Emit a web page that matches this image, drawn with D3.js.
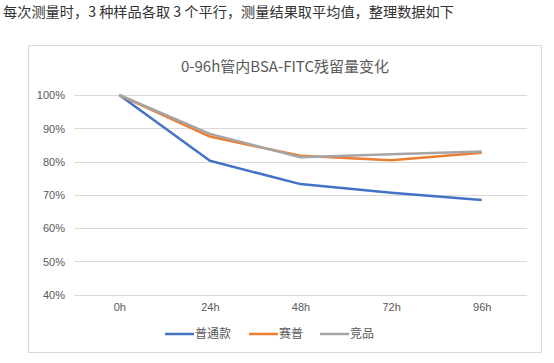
<!DOCTYPE html>
<html lang="zh">
<head>
<meta charset="utf-8">
<script src="https://cdn.jsdelivr.net/npm/d3@7"></script>
<style>
    body { margin: 0; background: #fff; font-family: "Noto Sans CJK SC", "Noto Sans", sans-serif; }
    .grid line { stroke: #d9d9d9; stroke-width: 1; }
    .axis text { fill: #595959; font-size: 11px; }
</style>
</head>
<body>
<svg id="chart" width="554" height="363"></svg>
<script>
    var hours = ["0h", "24h", "48h", "72h", "96h"];
    var seriesNames = ["普通款", "赛普", "竞品"];
    var putong = [100, 80.2, 73.2, 70.6, 68.4];
    var saipu = [100, 87.5, 81.7, 80.4, 82.6];
    var jingpin = [100, 88.3, 81.3, 82.2, 83.0];
    var yTicks = [40, 50, 60, 70, 80, 90, 100];
    var colors = ["#4472c4", "#ed7d31", "#a5a5a5"];

    var series = [putong, saipu, jingpin];

    var svg = d3.select("#chart");

    // header line above the chart
    svg.append("text")
        .attr("x", 3)
        .attr("y", 17)
        .attr("fill", "#333")
        .style("font-size", "14.2px")
        .text("每次测量时，3 种样品各取 3 个平行，测量结果取平均值，整理数据如下");

    // chart frame
    svg.append("rect")
        .attr("x", 28.5)
        .attr("y", 45.5)
        .attr("width", 513)
        .attr("height", 307)
        .attr("fill", "#fff")
        .attr("stroke", "#d9d9d9");

    svg.append("text")
        .attr("x", 285)
        .attr("y", 72)
        .attr("text-anchor", "middle")
        .attr("fill", "#595959")
        .style("font-size", "15px")
        .text("0-96h管内BSA-FITC残留量变化");

    var left = 74, right = 527;
    var x = d3.scalePoint().domain(hours).range([left, right]).padding(0.5);
    var y = d3.scaleLinear().domain([40, 100]).range([294.5, 95]);

    svg.append("g")
        .attr("class", "grid")
        .selectAll("line")
        .data(yTicks)
        .enter().append("line")
        .attr("x1", left)
        .attr("x2", right)
        .attr("y1", function(d) { return Math.round(y(d)) + 0.5; })
        .attr("y2", function(d) { return Math.round(y(d)) + 0.5; });

    var yAxis = svg.append("g")
        .attr("class", "axis")
        .attr("transform", "translate(" + (left - 6) + ",0)")
        .call(d3.axisLeft(y).tickValues(yTicks).tickSize(0).tickFormat(function(d) { return d + "%"; }));
    yAxis.select(".domain").remove();
    yAxis.selectAll("text").attr("dy", "0.35em");

    var xAxis = svg.append("g")
        .attr("class", "axis")
        .attr("transform", "translate(0," + 298 + ")")
        .call(d3.axisBottom(x).tickSize(0));
    xAxis.select(".domain").remove();
    xAxis.selectAll("text").attr("dy", "0.9em");

    var line = d3.line()
        .x(function(d, i) { return x(hours[i]); })
        .y(function(d) { return y(d); });

    svg.append("g")
        .selectAll("path")
        .data(series)
        .enter().append("path")
        .attr("d", line)
        .attr("fill", "none")
        .attr("stroke", function(d, i) { return colors[i]; })
        .attr("stroke-width", 2.5)
        .attr("stroke-linejoin", "round");

    // legend
    var legendX = [165, 249, 320];
    var lg = svg.append("g")
        .selectAll("g")
        .data(seriesNames)
        .enter().append("g")
        .attr("transform", function(d, i) { return "translate(" + legendX[i] + ",334)"; });

    lg.append("line")
        .attr("x1", 0)
        .attr("x2", 29)
        .attr("y1", 0)
        .attr("y2", 0)
        .attr("stroke", function(d, i) { return colors[i]; })
        .attr("stroke-width", 2.5);

    lg.append("text")
        .attr("x", 30)
        .attr("y", 0)
        .attr("dy", "0.35em")
        .attr("fill", "#595959")
        .style("font-size", "12px")
        .text(function(d) { return d; });
</script>
</body>
</html>
